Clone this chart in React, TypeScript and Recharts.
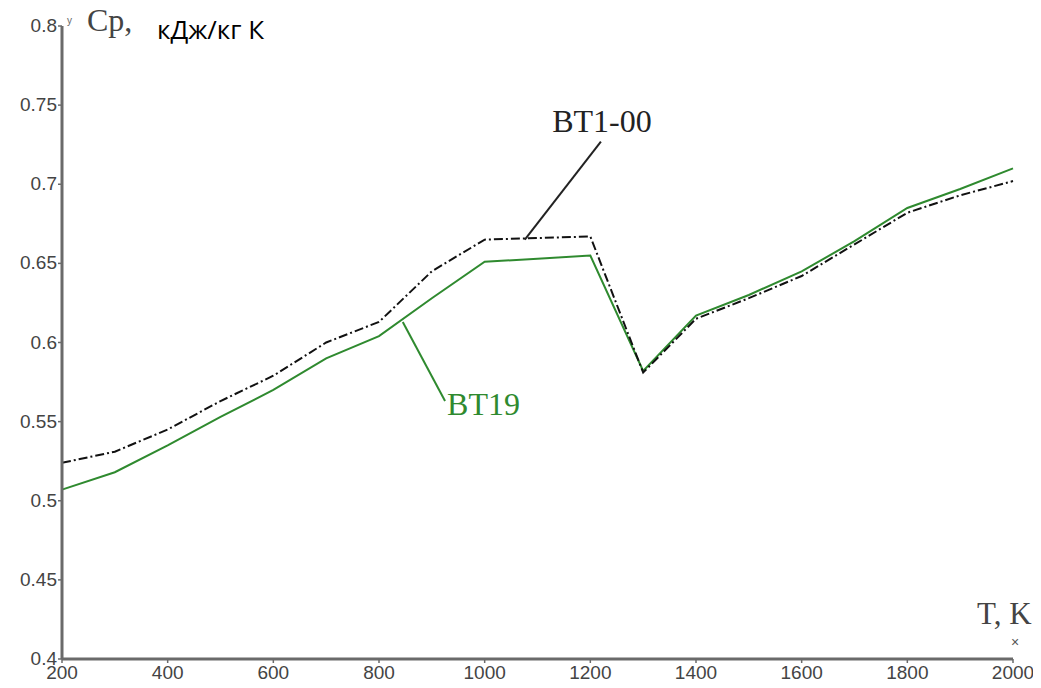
import React from 'react';
import { LineChart, Line, XAxis, YAxis, ReferenceLine, ReferenceDot } from 'recharts';

const temps = [200, 300, 400, 500, 600, 700, 800, 900, 1000, 1100, 1200, 1300, 1400, 1500, 1600, 1700, 1800, 1900, 2000];
const bt100 = [0.524, 0.531, 0.545, 0.563, 0.579, 0.6, 0.613, 0.645, 0.665, 0.666, 0.667, 0.581, 0.615, 0.628, 0.642, 0.662, 0.682, 0.693, 0.702];
const bt19 = [0.507, 0.518, 0.535, 0.553, 0.57, 0.59, 0.604, 0.628, 0.651, 0.653, 0.655, 0.582, 0.617, 0.63, 0.645, 0.664, 0.685, 0.697, 0.71];
const xTicks = [200, 400, 600, 800, 1000, 1200, 1400, 1600, 1800, 2000];
const yTicks = [0.4, 0.45, 0.5, 0.55, 0.6, 0.65, 0.7, 0.75, 0.8];

const data = temps.map((t, i) => ({ t, a: bt100[i], b: bt19[i] }));

const GREEN = '#2f8a2f';
const AXIS = '#6a6a6a';
const SERIF = 'Liberation Serif, Times New Roman, serif';
const tickStyle = { fill: '#444', fontSize: 19, fontFamily: 'Liberation Sans, Arial, sans-serif' };

// label only; the small tick marks come from Recharts' own tickLine
const xTick = (p: any) => (
  <text x={p.x} y={p.y + 16} textAnchor="middle" {...tickStyle}>{p.payload.value}</text>
);

const yTick = (p: any) => (
  <text x={p.x - 1} y={p.y + 6} textAnchor="end" {...tickStyle}>{p.payload.value}</text>
);

export default function App() {
  return (
    <div style={{ margin: -8, width: 1041, height: 688, background: '#fff', position: 'relative' }}>
      <LineChart width={1041} height={688} data={data} margin={{ top: 26, right: 28, bottom: 0, left: 2 }}>
        <XAxis
          dataKey="t"
          type="number"
          domain={[200, 2000]}
          ticks={xTicks}
          height={29}
          axisLine={{ stroke: AXIS, strokeWidth: 3 }}
          tickLine={{ stroke: AXIS, strokeWidth: 1.5 }}
          tickSize={4}
          tickMargin={0}
          tick={xTick}
        />
        <YAxis
          type="number"
          domain={[0.4, 0.8]}
          ticks={yTicks}
          width={60}
          axisLine={{ stroke: AXIS, strokeWidth: 3 }}
          tickLine={{ stroke: AXIS, strokeWidth: 1.5 }}
          tickSize={4}
          tickMargin={0}
          tick={yTick}
        />
        <ReferenceLine segment={[{ x: 1076, y: 0.665 }, { x: 1220, y: 0.727 }]} stroke="#222" strokeWidth={2} />
        <ReferenceLine segment={[{ x: 845, y: 0.613 }, { x: 925, y: 0.563 }]} stroke={GREEN} strokeWidth={2} />
        <ReferenceDot
          x={1222}
          y={0.727}
          r={0}
          label={{ value: 'BT1-00', position: 'top', offset: 10, fill: '#222', fontSize: 32, fontFamily: SERIF }}
        />
        <ReferenceDot
          x={925}
          y={0.5615}
          r={0}
          label={{ value: 'BT19', position: 'right', offset: 2, fill: GREEN, fontSize: 32, fontFamily: SERIF }}
        />
        <Line type="linear" dataKey="b" stroke={GREEN} strokeWidth={2} dot={false} isAnimationActive={false} />
        <Line type="linear" dataKey="a" stroke="#111" strokeWidth={2} strokeDasharray="9 3 2 3" dot={false} isAnimationActive={false} />
      </LineChart>
      <div style={{ position: 'absolute', left: 87, top: 2, fontFamily: SERIF, fontSize: 32, color: '#444' }}>Cp,</div>
      <div style={{ position: 'absolute', left: 157, top: 11, fontFamily: 'Open Sans, Liberation Sans, sans-serif', fontSize: 26, color: '#000' }}>кДж/кг К</div>
      <div style={{ position: 'absolute', left: 977, top: 596, fontFamily: SERIF, fontSize: 31, color: '#444' }}>T, K</div>
      <div style={{ position: 'absolute', left: 1011, top: 634, fontFamily: 'Liberation Sans, sans-serif', fontSize: 14, color: '#555' }}>×</div>
      <div style={{ position: 'absolute', left: 67, top: 15, fontFamily: 'Liberation Sans, sans-serif', fontSize: 10, color: '#666' }}>y</div>
    </div>
  );
}
